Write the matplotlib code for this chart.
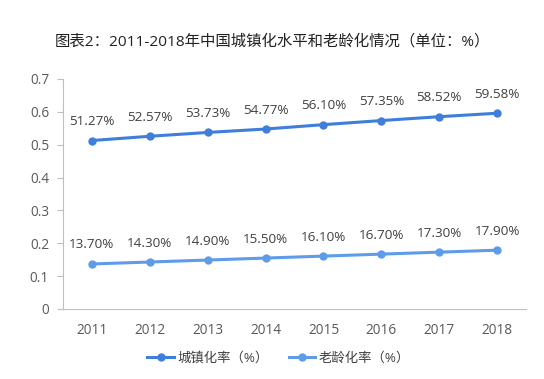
import matplotlib
matplotlib.use("Agg")
import matplotlib.pyplot as plt

plt.rcParams['font.family'] = ['Open Sans', 'Noto Sans CJK SC', 'DejaVu Sans']

years = ['2011', '2012', '2013', '2014', '2015', '2016', '2017', '2018']
urban = [0.5127, 0.5257, 0.5373, 0.5477, 0.5610, 0.5735, 0.5852, 0.5958]
aging = [0.1370, 0.1430, 0.1490, 0.1550, 0.1610, 0.1670, 0.1730, 0.1790]
urban_labels = ['51.27%', '52.57%', '53.73%', '54.77%', '56.10%', '57.35%', '58.52%', '59.58%']
aging_labels = ['13.70%', '14.30%', '14.90%', '15.50%', '16.10%', '16.70%', '17.30%', '17.90%']
title = '图表2：2011-2018年中国城镇化水平和老龄化情况（单位：%）'
name_urban = '城镇化率（%）'
name_aging = '老龄化率（%）'

c_urban = '#3E7FDC'
c_aging = '#5E9CEA'
grey = '#595959'

fig = plt.figure(figsize=(5.44, 3.79), dpi=100)
ax = fig.add_axes([0.1158, 0.1847, 0.967 - 0.1158, 0.7916 - 0.1847])

x = list(range(len(years)))
ax.plot(x, urban, color=c_urban, lw=2.2, marker='o', ms=5, label=name_urban)
ax.plot(x, aging, color=c_aging, lw=2.2, marker='o', ms=5, label=name_aging)

for xi, v, t in zip(x, urban, urban_labels):
    ax.annotate(t, (xi, v), xytext=(0, 9), textcoords='offset points',
                ha='center', va='bottom', fontsize=9.7, color='#404040')
for xi, v, t in zip(x, aging, aging_labels):
    ax.annotate(t, (xi, v), xytext=(0, 9), textcoords='offset points',
                ha='center', va='bottom', fontsize=9.7, color='#404040')

ax.set_xlim(-0.5, len(years) - 0.5)
ax.set_ylim(0, 0.7)
ax.set_xticks(x)
ax.set_xticklabels(years)
ax.set_yticks([0, 0.1, 0.2, 0.3, 0.4, 0.5, 0.6, 0.7])
ax.set_yticklabels(['0', '0.1', '0.2', '0.3', '0.4', '0.5', '0.6', '0.7'])
for s in ['top', 'right']:
    ax.spines[s].set_visible(False)
for s in ['left', 'bottom']:
    ax.spines[s].set_color('#BFBFBF')
    ax.spines[s].set_linewidth(0.8)
ax.tick_params(axis='y', colors='#BFBFBF', labelcolor=grey, labelsize=9.8, length=4, pad=6)
ax.tick_params(axis='x', length=0, labelcolor=grey, labelsize=9.8, pad=10)

fig.text(0.5, 0.889, title, ha='center', va='center', fontsize=11.1, color='#222222')

fig.legend(loc='center', bbox_to_anchor=(0.512, 0.056), ncol=2, frameon=False,
           fontsize=9.6, handlelength=2.0, columnspacing=1.5, handletextpad=0.25,
           labelcolor='#404040')

fig.savefig('out.png', dpi=100, facecolor='white')
